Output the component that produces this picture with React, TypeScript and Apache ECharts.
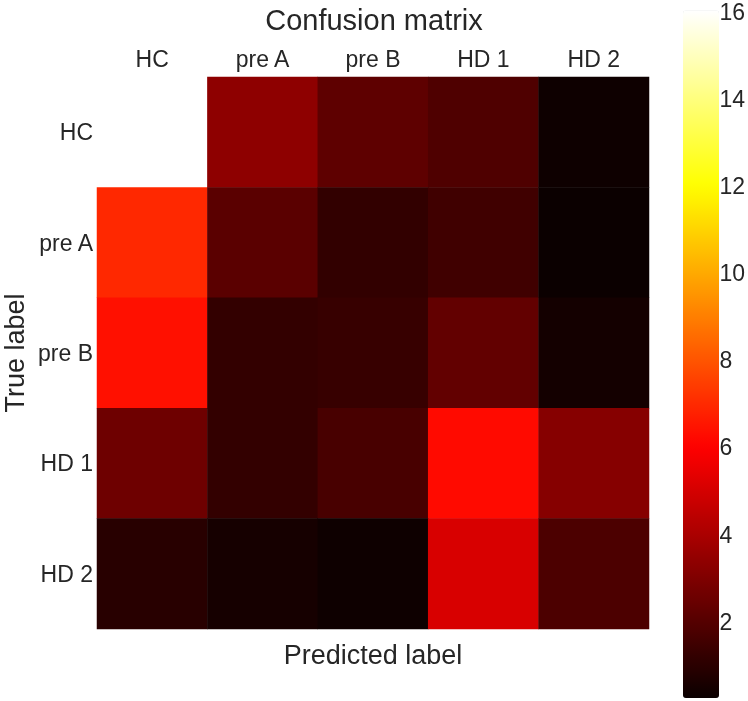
import React, { useEffect, useRef } from "react";
import * as echarts from "echarts";

const columns = ["HC", "pre A", "pre B", "HD 1", "HD 2"];
const rowLabels = ["HC", "pre A", "pre B", "HD 1", "HD 2"];
const rowHC = [16, 3.34, 2.21, 1.84, 0.33];
const rowPreA = [6.94, 2.12, 1.18, 1.51, 0.25];
const rowPreB = [6.38, 1.2, 1.3, 2.31, 0.47];
const rowHD1 = [2.59, 1.22, 1.69, 6.23, 3.15];
const rowHD2 = [0.94, 0.52, 0.33, 5.08, 1.79];
const colorbarTicks = [2, 4, 6, 8, 10, 12, 14, 16];
const valueMin = 0.25;
const valueMax = 16;

const matrix = [rowHC, rowPreA, rowPreB, rowHD1, rowHD2];

// matplotlib "hot" colormap
function hot(x: number): string {
  const c = (v: number) => Math.max(0, Math.min(1, v));
  const r = c(0.0416 + (x / 0.365079) * (1 - 0.0416));
  const g = c((x - 0.365079) / (0.746032 - 0.365079));
  const b = c((x - 0.746032) / (1 - 0.746032));
  const h = (v: number) => Math.round(v * 255).toString(16).padStart(2, "0");
  return "#" + h(r) + h(g) + h(b);
}
const hotStops: string[] = [];
for (let i = 0; i <= 80; i++) hotStops.push(hot(i / 80));

const TEXT = "#262626";
const FONT = "'Liberation Sans', Arial, sans-serif";

export default function App() {
  const ref = useRef<HTMLDivElement>(null);
  useEffect(() => {
    if (!ref.current) return;
    const chart = echarts.init(ref.current, null, { renderer: "svg" });
    const data: [number, number, number][] = [];
    matrix.forEach((row, ri) => row.forEach((v, ci) => data.push([ci, ri, v])));
    chart.setOption({
      animation: false,
      textStyle: { fontFamily: FONT },
      title: {
        text: "Confusion matrix",
        left: "center",
        top: 0,
        textStyle: { fontSize: 29, fontWeight: "normal", color: TEXT, fontFamily: FONT },
      },
      grid: [
        { left: 97, top: 77, width: 552, height: 552 },
        { left: 683, top: 10.5, width: 36, height: 687.5 },
      ],
      xAxis: [
        {
          type: "category",
          data: columns,
          position: "top",
          gridIndex: 0,
          axisLine: { show: false },
          axisTick: { show: false },
          splitLine: { show: false },
          axisLabel: { interval: 0, fontSize: 23, color: TEXT, margin: 7, fontFamily: FONT },
        },
        { type: "value", gridIndex: 1, show: false, min: 0, max: 1 },
      ],
      yAxis: [
        {
          type: "category",
          data: rowLabels,
          inverse: true,
          gridIndex: 0,
          axisLine: { show: false },
          axisTick: { show: false },
          splitLine: { show: false },
          axisLabel: { interval: 0, fontSize: 23, color: TEXT, margin: 4, fontFamily: FONT },
        },
        {
          type: "value",
          gridIndex: 1,
          position: "right",
          min: valueMin,
          max: valueMax,
          axisLine: { show: false },
          axisTick: { show: false },
          splitLine: { show: false },
          axisLabel: {
            customValues: colorbarTicks,
            fontSize: 23,
            color: TEXT,
            margin: 3,
            fontFamily: FONT,
          },
        },
      ],
      visualMap: {
        type: "continuous",
        seriesIndex: 0,
        min: valueMin,
        max: valueMax,
        calculable: false,
        orient: "vertical",
        left: 683,
        top: 10.5,
        itemWidth: 36,
        itemHeight: 687.5,
        padding: 0,
        text: undefined,
        showLabel: false,
        hoverLink: false,
        inRange: { color: hotStops },
      },
      series: [
        {
          type: "heatmap",
          xAxisIndex: 0,
          yAxisIndex: 0,
          data,
          itemStyle: { borderWidth: 0 },
          emphasis: { disabled: true },
        },
        {
          type: "scatter",
          xAxisIndex: 1,
          yAxisIndex: 1,
          data: [],
          silent: true,
        },
      ],
      graphic: [
        {
          type: "text",
          x: 373,
          y: 655,
          style: {
            text: "Predicted label",
            fontSize: 27,
            fontFamily: FONT,
            fill: TEXT,
            align: "center",
            verticalAlign: "middle",
          },
        },
        {
          type: "text",
          x: 15,
          y: 353,
          rotation: Math.PI / 2,
          style: {
            text: "True label",
            fontSize: 27,
            fontFamily: FONT,
            fill: TEXT,
            align: "center",
            verticalAlign: "middle",
          },
        },
      ],
    });
    return () => chart.dispose();
  }, []);
  return (
    <div
      ref={ref}
      style={{ position: "fixed", left: 0, top: 0, width: 748, height: 701 }}
    />
  );
}
